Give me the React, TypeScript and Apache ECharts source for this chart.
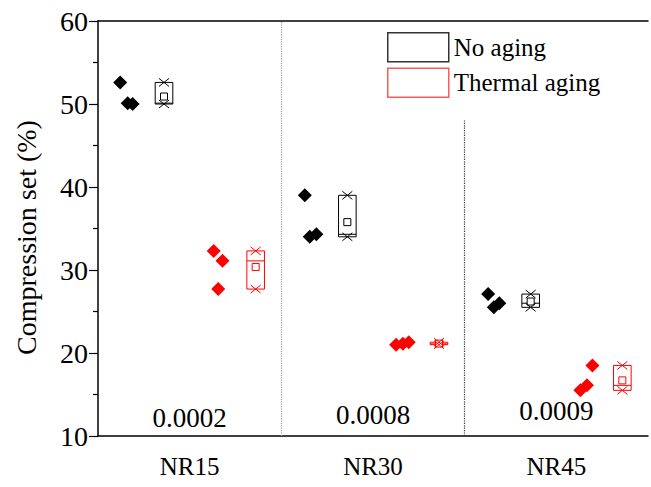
import React, { useEffect, useRef } from "react";
import * as echarts from "echarts";

const categories = ["NR15", "NR30", "NR45"];
const noAging = [
  [52.6, 50.1, 50.0],
  [39.0, 34.0, 34.3],
  [27.1, 25.5, 26.0],
];
const thermalAging = [
  [32.3, 27.7, 31.1],
  [21.0, 21.1, 21.3],
  [15.5, 16.1, 18.5],
];
const noAgingJitter = [
  [-0.379, -0.338, -0.311],
  [-0.372, -0.345, -0.309],
  [-0.372, -0.341, -0.311],
];
const thermalJitter = [
  [0.131, 0.156, 0.179],
  [0.126, 0.163, 0.195],
  [0.131, 0.167, 0.197],
];
const pValues = ["0.0002", "0.0008", "0.0009"];
const pValueY = [12.2, 12.5, 13.0];
const yMin = 10;
const yMax = 60;
const yStep = 10;

const FONT = "Liberation Serif";

function stats(vals: number[]) {
  const s = [...vals].sort((a, b) => a - b);
  const mean = vals.reduce((a, b) => a + b, 0) / vals.length;
  return { min: s[0], max: s[s.length - 1], median: s[Math.floor(s.length / 2)], mean };
}

function boxData(groups: number[][], offset: number) {
  return groups.map((g, i) => {
    const st = stats(g);
    return [i + 1 + offset, st.min, st.max, st.median, st.mean];
  });
}

function pointData(groups: number[][], jitter: number[][]) {
  const out: number[][] = [];
  groups.forEach((g, i) => g.forEach((v, j) => out.push([i + 1 + jitter[i][j], v])));
  return out;
}

function makeRender(color: string) {
  return (params: any, api: any) => {
    const x = api.value(0);
    const mn = api.value(1);
    const mx = api.value(2);
    const md = api.value(3);
    const me = api.value(4);
    const w = api.size([0.096, 0])[0];
    const pMin = api.coord([x, mn]);
    const pMax = api.coord([x, mx]);
    const pMd = api.coord([x, md]);
    const pMe = api.coord([x, me]);
    const cx = pMin[0];
    const line = { stroke: color, lineWidth: 1, fill: "none" };
    const xm = (p: number[]) => [
      { type: "line", shape: { x1: p[0] - 5, y1: p[1] - 4, x2: p[0] + 5, y2: p[1] + 4 }, style: line },
      { type: "line", shape: { x1: p[0] - 5, y1: p[1] + 4, x2: p[0] + 5, y2: p[1] - 4 }, style: line },
    ];
    return {
      type: "group",
      children: [
        {
          type: "rect",
          shape: { x: cx - w / 2, y: pMax[1], width: w, height: Math.max(pMin[1] - pMax[1], 1) },
          style: { stroke: color, lineWidth: 1, fill: "none" },
        },
        { type: "line", shape: { x1: cx - w / 2, y1: pMd[1], x2: cx + w / 2, y2: pMd[1] }, style: line },
        { type: "rect", shape: { x: cx - 3.5, y: pMe[1] - 3.5, width: 7, height: 7 }, style: { stroke: color, lineWidth: 1, fill: "#fff" } },
        ...xm(pMin),
        ...xm(pMax),
      ],
    };
  };
}

export default function App() {
  const ref = useRef<HTMLDivElement>(null);
  useEffect(() => {
    if (!ref.current) return;
    const chart = echarts.init(ref.current, undefined, { renderer: "svg" });
    const axisLine = { show: true, lineStyle: { color: "#000", width: 1.5 } };
    chart.setOption({
      animation: false,
      backgroundColor: "#fff",
      textStyle: { fontFamily: FONT },
      grid: { left: 98, top: 21, right: -8, bottom: 51 },
      legend: {
        orient: "vertical",
        left: 387,
        top: 32,
        padding: 0,
        itemWidth: 61,
        itemHeight: 29,
        itemGap: 5,
        selectedMode: false,
        textStyle: { fontFamily: FONT, fontSize: 25, color: "#000" },
        data: [
          { name: "No aging", icon: "rect", itemStyle: { color: "#fff", borderColor: "#333", borderWidth: 1.5 } },
          { name: "Thermal aging", icon: "rect", itemStyle: { color: "#fff", borderColor: "#ff5a5a", borderWidth: 1.5 } },
        ],
      },
      xAxis: [
        {
          type: "value",
          min: 0.5,
          max: 3.5,
          interval: 0.5,
          axisLine,
          axisTick: { show: false },
          splitLine: { show: false },
          axisLabel: {
            margin: 18,
            fontFamily: FONT,
            fontSize: 25,
            color: "#000",
            formatter: (v: number) => {
              const r = Math.round(v);
              return Math.abs(v - r) < 1e-6 && r >= 1 && r <= categories.length ? categories[r - 1] : "";
            },
          },
        },
        {
          type: "value",
          position: "top",
          min: 0.5,
          max: 3.5,
          axisLine,
          axisTick: { show: false },
          axisLabel: { show: false },
          splitLine: { show: false },
        },
      ],
      yAxis: {
        type: "value",
        min: yMin,
        max: yMax,
        interval: yStep,
        axisLine,
        axisTick: { show: true, inside: false, length: 9, lineStyle: { color: "#000", width: 1.2 } },
        minorTick: { show: true, splitNumber: 2, length: 5, lineStyle: { color: "#000", width: 1.2 } },
        splitLine: { show: false },
        axisLabel: { margin: 10, fontFamily: FONT, fontSize: 28, color: "#000" },
        name: "Compression set (%)",
        nameLocation: "middle",
        nameGap: 58,
        nameTextStyle: { fontFamily: FONT, fontSize: 28, color: "#000", padding: [0, 18, 0, 0] },
      },
      series: [
        {
          name: "No aging",
          type: "custom",
          renderItem: makeRender("#000"),
          data: boxData(noAging, -0.14),
          z: 3,
        },
        {
          name: "Thermal aging",
          type: "custom",
          renderItem: makeRender("#ff0000"),
          data: boxData(thermalAging, 0.36),
          z: 3,
        },
        {
          name: "No aging data",
          type: "scatter",
          symbol: "diamond",
          symbolSize: 14,
          itemStyle: { color: "#000", opacity: 1 },
          data: pointData(noAging, noAgingJitter),
          z: 4,
        },
        {
          name: "Thermal aging data",
          type: "scatter",
          symbol: "diamond",
          symbolSize: 14,
          itemStyle: { color: "#ff0000", opacity: 1 },
          data: pointData(thermalAging, thermalJitter),
          z: 4,
        },
        {
          name: "p",
          type: "scatter",
          symbolSize: 0,
          itemStyle: { opacity: 1 },
          data: pValueY.map((y, i) => [i + 1, y]),
          label: {
            show: true,
            position: "inside",
            fontFamily: FONT,
            fontSize: 27,
            color: "#000",
            opacity: 1,
            formatter: (p: any) => pValues[p.dataIndex],
          },
          markLine: {
            silent: true,
            symbol: "none",
            label: { show: false },
            data: [
              [
                { coord: [1.5, yMin], lineStyle: { type: "dotted", color: "#999", width: 1.2 } },
                { coord: [1.5, yMax] },
              ],
              [
                { coord: [2.5, yMin], lineStyle: { type: "dotted", color: "#333", width: 1.2 } },
                { coord: [2.5, 48] },
              ],
            ],
          },
        },
      ],
    });
    return () => chart.dispose();
  }, []);
  return <div ref={ref} style={{ position: "fixed", left: 0, top: 0, width: 651, height: 487 }} />;
}
